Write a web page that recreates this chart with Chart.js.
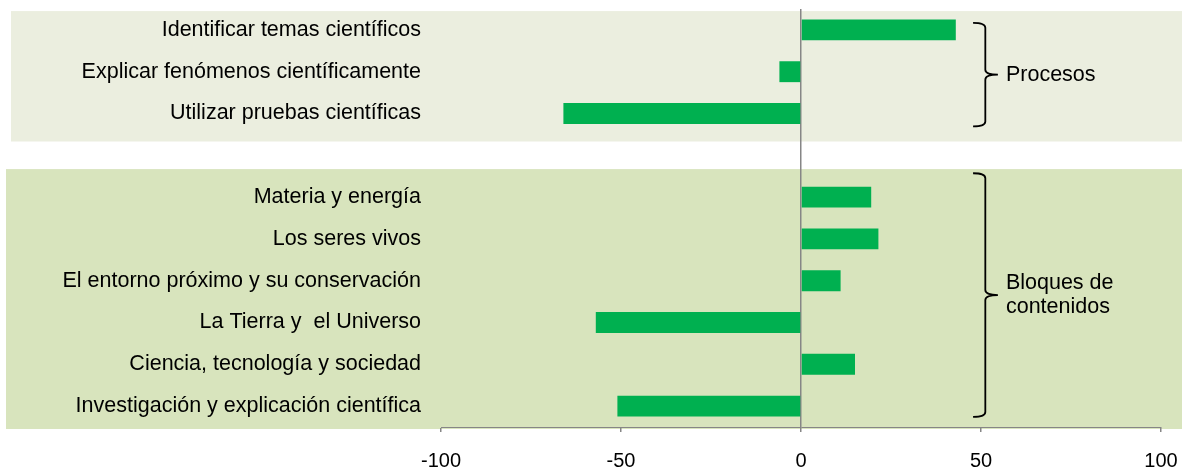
<!DOCTYPE html>
<html>
<head>
<meta charset="utf-8">
<script src="https://cdn.jsdelivr.net/npm/chart.js@4"></script>
<style>
  html, body { margin: 0; padding: 0; background: #fff; }
  #wrap { width: 1182px; height: 468px; position: relative; }
</style>
</head>
<body>
<div id="wrap"><canvas id="myChart1"></canvas></div>
<script>
// datos
var categorias = [
    'Identificar temas científicos',
    'Explicar fenómenos científicamente',
    'Utilizar pruebas científicas',
    '',
    'Materia y energía',
    'Los seres vivos',
    'El entorno próximo y su conservación',
    'La Tierra y  el Universo',
    'Ciencia, tecnología y sociedad',
    'Investigación y explicación científica'
];
var valores = [43, -6, -66, null, 19.5, 21.5, 11, -57, 15, -51];
var ticksX = [-100, -50, 0, 50, 100];
var grupos = ['Procesos', ['Bloques de', 'contenidos']];

var fuente = '"Liberation Sans", Arial, sans-serif';

// fondos y llaves de los grupos (en unidades de categoría)
const fondos = {
    id: 'fondos',
    beforeDraw(chart) {
        const ctx = chart.ctx, y = chart.scales.y;
        const paso = y.getPixelForValue(1) - y.getPixelForValue(0);
        const paneles = [
            { desde: y.getPixelForValue(0) - 0.45 * paso, hasta: y.getPixelForValue(2) + 0.67 * paso, izq: 11, color: '#ebeedf' },
            { desde: y.getPixelForValue(4) - 0.67 * paso, hasta: chart.chartArea.bottom + 2, izq: 6, color: '#d8e4bd' }
        ];
        ctx.save();
        paneles.forEach(p => {
            ctx.fillStyle = p.color;
            ctx.fillRect(p.izq, p.desde, chart.width - p.izq, p.hasta - p.desde);
        });
        ctx.restore();
    },
    afterDraw(chart) {
        const ctx = chart.ctx, y = chart.scales.y, x = chart.scales.x;
        const paso = y.getPixelForValue(1) - y.getPixelForValue(0);
        const llaves = [
            { top: y.getPixelForValue(0) - 0.17 * paso, bot: y.getPixelForValue(2) + 0.31 * paso, texto: grupos[0] },
            { top: y.getPixelForValue(4) - 0.57 * paso, bot: y.getPixelForValue(9) + 0.26 * paso, texto: grupos[1] }
        ];
        const x0 = x.getPixelForValue(47.8), x1 = x.getPixelForValue(51.2), x2 = x.getPixelForValue(54.7);
        ctx.save();
        ctx.strokeStyle = '#000';
        ctx.lineWidth = 1.8;
        llaves.forEach(l => {
            const mid = (l.top + l.bot) / 2, r = 5;
            ctx.beginPath();
            ctx.moveTo(x0, l.top);
            ctx.quadraticCurveTo(x1, l.top, x1, l.top + r);
            ctx.lineTo(x1, mid - r);
            ctx.quadraticCurveTo(x1, mid, x2, mid);
            ctx.quadraticCurveTo(x1, mid, x1, mid + r);
            ctx.lineTo(x1, l.bot - r);
            ctx.quadraticCurveTo(x1, l.bot, x0, l.bot);
            ctx.stroke();
            ctx.fillStyle = '#000';
            ctx.font = '21.5px ' + fuente;
            ctx.textAlign = 'left';
            ctx.textBaseline = 'middle';
            const lineas = Array.isArray(l.texto) ? l.texto : [l.texto];
            const alto = 24;
            lineas.forEach((t, i) => {
                ctx.fillText(t, x2 + 8, mid + (i - (lineas.length - 1) / 2) * alto);
            });
        });
        ctx.restore();
    }
};

const dataMyChart1 = {
    labels: categorias,
    datasets: [{
        data: valores,
        backgroundColor: '#00b050',
        borderWidth: 0,
        barPercentage: 0.5,
        categoryPercentage: 1
    }]
};

const configMyChart1 = {
    type: 'bar',
    data: dataMyChart1,
    plugins: [fondos],
    options: {
        indexAxis: 'y',
        responsive: true,
        maintainAspectRatio: false,
        animation: false,
        layout: { padding: { top: 9, right: 21, left: 0, bottom: 0 } },
        plugins: { legend: { display: false }, tooltip: { enabled: false } },
        scales: {
            x: {
                min: -100,
                max: 100,
                afterBuildTicks: (s) => { s.ticks = ticksX.map(v => ({ value: v })); },
                afterFit: (s) => { s.height = 41; s.paddingLeft = 0; s.paddingRight = 0; },
                border: { display: true, color: '#868686', width: 1 },
                grid: {
                    color: (c) => (c.tick && c.tick.value === 0 ? '#868686' : 'rgba(0,0,0,0)'),
                    tickColor: '#868686',
                    tickLength: 5,
                    lineWidth: 1.5
                },
                ticks: {
                    color: '#000',
                    font: { family: fuente, size: 20 },
                    padding: 17,
                    maxRotation: 0
                }
            },
            y: {
                afterFit: (s) => { s.width = 441; s.paddingTop = 0; s.paddingBottom = 0; },
                border: { display: false },
                grid: { display: false, drawTicks: false },
                ticks: {
                    autoSkip: false,
                    color: '#000',
                    font: { family: fuente, size: 21.5 },
                    padding: 20
                }
            }
        }
    }
};

let myChart1 = new Chart(document.getElementById('myChart1'), configMyChart1);
</script>
</body>
</html>
